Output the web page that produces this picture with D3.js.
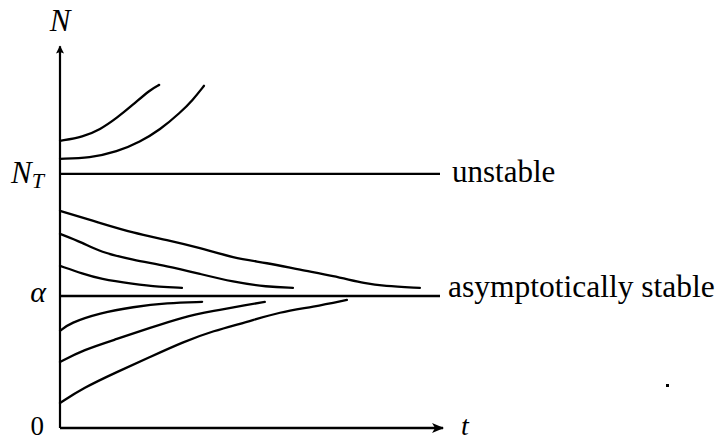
<!DOCTYPE html>
<html>
<head>
<meta charset="utf-8">
<script src="https://cdn.jsdelivr.net/npm/d3@7"></script>
<style>
  html, body { margin: 0; padding: 0; background: #fff; }
  svg text { font-family: "Liberation Serif", "DejaVu Serif", serif; fill: #000; }
</style>
</head>
<body>
<svg id="chart" width="725" height="442"></svg>
<script>
// ---- data (t in arbitrary time units, N in units of alpha) ----
const ALPHA = 1.0;
const NT = 1.924;
const yTickLabels = ["0", "α", "N_T"];

// trajectories above N_T (diverging)
const up1T = [0, 0.61, 1.05, 1.5, 1.92, 2.37, 2.61];
const up1N = [2.174, 2.205, 2.258, 2.348, 2.447, 2.561, 2.598];
const up2T = [0, 0.79, 1.5, 2.11, 2.63, 3.16, 3.5, 3.79];
const up2N = [2.038, 2.045, 2.091, 2.167, 2.258, 2.386, 2.485, 2.591];

// trajectories between alpha and N_T (decaying to alpha)
const midAT = [0, 1.05, 1.92, 2.82, 3.68, 4.55, 5.45, 6.32, 7.18, 8.08, 8.5, 9.47];
const midAN = [1.644, 1.553, 1.477, 1.424, 1.364, 1.288, 1.25, 1.197, 1.152, 1.091, 1.076, 1.061];
const midBT = [0, 0.61, 1.05, 1.92, 2.82, 3.68, 4.55, 5.45, 6.13];
const midBN = [1.470, 1.402, 1.333, 1.273, 1.227, 1.167, 1.106, 1.068, 1.061];
const midCT = [0, 0.61, 1.05, 1.92, 2.63, 3.21];
const midCN = [1.227, 1.167, 1.129, 1.091, 1.068, 1.061];

// trajectories below alpha (rising to alpha)
const lowDT = [0, 0.26, 1.05, 1.92, 2.82, 3.74];
const lowDN = [0.735, 0.795, 0.871, 0.917, 0.947, 0.955];
const lowET = [0, 0.61, 1.5, 2.37, 3.24, 4.03, 4.92, 5.39];
const lowEN = [0.5, 0.591, 0.674, 0.758, 0.841, 0.886, 0.932, 0.955];
const lowFT = [0, 0.61, 1.5, 2.37, 3.24, 4.03, 4.92, 5.79, 6.66, 7.55];
const lowFN = [0.189, 0.303, 0.424, 0.538, 0.652, 0.735, 0.803, 0.879, 0.917, 0.970];

const lineEndT = 10;
const axisEndT = 10.08;
const axisTopN = 2.89;

// ---- drawing ----
const svg = d3.select("#chart");
const x = d3.scaleLinear().domain([0, 10]).range([60, 440]);
const y = d3.scaleLinear().domain([0, 2.9]).range([428, 45]);

const defs = svg.append("defs");
defs.append("marker").attr("id", "arrowX")
  .attr("viewBox", "0 0 12 10").attr("refX", 11).attr("refY", 5)
  .attr("markerWidth", 12).attr("markerHeight", 10).attr("markerUnits", "userSpaceOnUse")
  .attr("orient", "auto")
  .append("path").attr("d", "M0,0 L12,5 L0,10 L3,5 Z").attr("fill", "#000");
defs.append("marker").attr("id", "arrowY")
  .attr("viewBox", "0 0 10 10").attr("refX", 9).attr("refY", 5)
  .attr("markerWidth", 9).attr("markerHeight", 8).attr("markerUnits", "userSpaceOnUse")
  .attr("orient", "auto")
  .append("path").attr("d", "M0,0 L10,5 L0,10 L2,5 Z").attr("fill", "#000");

// axes
svg.append("line")
  .attr("x1", x(0)).attr("y1", y(0)).attr("x2", x(axisEndT)).attr("y2", y(0))
  .attr("stroke", "#000").attr("stroke-width", 2.6).attr("marker-end", "url(#arrowX)");
svg.append("line")
  .attr("x1", x(0)).attr("y1", y(0)).attr("x2", x(0)).attr("y2", y(axisTopN))
  .attr("stroke", "#000").attr("stroke-width", 2.2).attr("marker-end", "url(#arrowY)");

// equilibrium lines
[NT, ALPHA].forEach(v => {
  svg.append("line")
    .attr("x1", x(0)).attr("x2", x(lineEndT))
    .attr("y1", y(v)).attr("y2", y(v))
    .attr("stroke", "#000").attr("stroke-width", 2.4);
});

// trajectories
const series = [
  [up1T, up1N], [up2T, up2N],
  [midAT, midAN], [midBT, midBN], [midCT, midCN],
  [lowDT, lowDN], [lowET, lowEN], [lowFT, lowFN]
];
const line = d3.line().x(d => x(d[0])).y(d => y(d[1])).curve(d3.curveBasis);
series.forEach(([ts, ns]) => {
  svg.append("path")
    .datum(ts.map((t, i) => [t, ns[i]]))
    .attr("d", line)
    .attr("fill", "none").attr("stroke", "#000").attr("stroke-width", 2.3)
    .attr("stroke-linecap", "round");
});

// tick labels on N axis
svg.append("text").attr("x", 44).attr("y", y(0) + 7).attr("text-anchor", "end")
  .attr("font-size", 27).text(yTickLabels[0]);
svg.append("text").attr("x", 46).attr("y", y(ALPHA) + 6).attr("text-anchor", "end")
  .attr("font-size", 30).attr("font-style", "italic").text(yTickLabels[1]);
const ntLab = svg.append("text").attr("x", 11).attr("y", y(NT) + 9)
  .attr("font-size", 31).attr("font-style", "italic");
ntLab.append("tspan").text(yTickLabels[2].split("_")[0]);
ntLab.append("tspan").attr("dy", 5).attr("font-size", 22).text(yTickLabels[2].split("_")[1]);

// axis titles
svg.append("text").attr("x", 60).attr("y", 31).attr("text-anchor", "middle")
  .attr("font-size", 31).attr("font-style", "italic").text("N");
svg.append("text").attr("x", 461).attr("y", 435)
  .attr("font-size", 28).attr("font-style", "italic").text("t");

// equilibrium annotations
svg.append("text").attr("x", 452).attr("y", y(NT) + 8)
  .attr("font-size", 31).text("unstable");
svg.append("text").attr("x", 448).attr("y", y(ALPHA) + 1)
  .attr("font-size", 31.5).text("asymptotically stable");

// stray speck from the scanned original
svg.append("rect").attr("x", 666).attr("y", 384).attr("width", 3).attr("height", 3).attr("fill", "#000");
</script>
</body>
</html>
